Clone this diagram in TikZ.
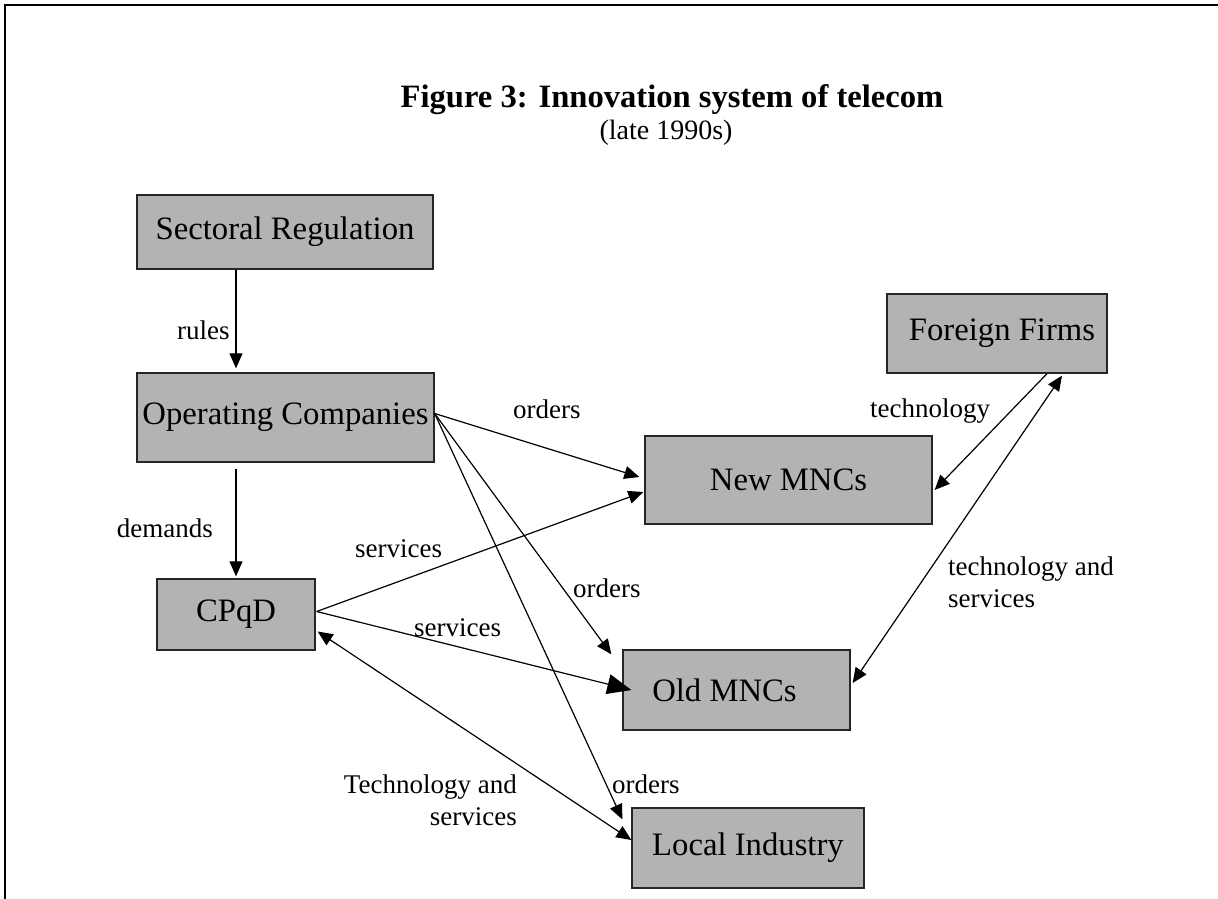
\documentclass[tikz,border=0pt]{standalone}
\usepackage{fontspec}
\setmainfont{Liberation Serif}
\usetikzlibrary{arrows.meta}
\definecolor{boxgray}{RGB}{179,179,179}
\begin{document}
\begin{tikzpicture}[x=1bp,y=-1bp,
  box/.style={draw=black!85, line width=1.3bp, fill=boxgray, inner sep=0pt,
    font=\fontsize{32.7bp}{36bp}\selectfont},
  lbl/.style={font=\fontsize{27bp}{31.7bp}\selectfont, inner sep=0pt},
  conn/.style={line width=1.2bp, -{Triangle[length=15bp,width=13bp]}},
  bigconn/.style={line width=1.2bp, -{Triangle[length=24bp,width=20bp]}},
  dconn/.style={line width=1.2bp, {Triangle[length=15bp,width=13bp]}-{Triangle[length=15bp,width=13bp]}},
  frame/.style={line width=2.2bp}]
\useasboundingbox (0,0) rectangle (1218,899);
\draw[frame] (5,899) -- (5,5) -- (1218,5);

\node[font=\bfseries\fontsize{32.6bp}{36bp}\selectfont, inner sep=0pt, anchor=base] (title) at (672,107) {Figure 3: Innovation system of telecom};
\node[font=\fontsize{28bp}{32bp}\selectfont, inner sep=0pt, anchor=base] (subtitle) at (666,139) {(late 1990s)};

\node[box, minimum width=296bp, minimum height=74bp] (sec) at (285,232) {Sectoral Regulation};
\node[box, minimum width=297bp, minimum height=89bp] (op) at (285.5,417.5) {Operating Companies};
\node[box, minimum width=158bp, minimum height=71bp] (cpqd) at (236,614.5) {CPqD};
\node[box, minimum width=287bp, minimum height=88bp] (new) at (788.5,480) {New MNCs};
\node[box, minimum width=220bp, minimum height=79bp] (ff) at (997,333.5) {\hspace*{10bp}Foreign Firms};
\node[box, minimum width=227bp, minimum height=80bp] (old) at (736.5,690) {\hspace*{-24bp}Old MNCs};
\node[box, minimum width=232bp, minimum height=80bp] (local) at (748,848) {Local Industry};

% connectors
\draw[conn] (sec.south -| cpqd.north) -- ([yshift=4bp]op.north -| cpqd.north);
\draw[conn] ([yshift=-6bp]op.south -| cpqd.north) -- ([yshift=2bp]cpqd.north);
\draw[conn] ([yshift=4bp]op.east) -- ([xshift=-5bp,yshift=3bp]new.west);
\draw[conn] ([yshift=4bp]op.east) -- ([xshift=-11bp,yshift=-5bp]old.north west);
\draw[conn] ([yshift=4bp]op.east) -- ([xshift=-9bp,yshift=-12bp]local.north west);
\draw[conn] ([xshift=1bp,yshift=3bp]cpqd.east) -- ([xshift=-1bp,yshift=-12bp]new.west);
\draw[bigconn] ([xshift=1bp,yshift=3bp]cpqd.east) -- ([xshift=9bp]old.west);
\draw[dconn] ([xshift=2bp,yshift=-17bp]cpqd.east) -- ([yshift=8bp]local.west);
\draw[conn] ([xshift=50bp]ff.south) -- ([xshift=2bp,yshift=-10bp]new.east);
\draw[dconn] ([xshift=2bp,yshift=7bp]old.east) -- ([xshift=65bp,yshift=-2bp]ff.south);

% labels
\node[lbl, anchor=base west] (l1) at (177,339) {rules};
\node[lbl, anchor=base east] (l2) at (213,537) {demands};
\node[lbl, anchor=base west] (l3) at (513,418) {orders};
\node[lbl, anchor=base west] (l4) at (355,557) {services};
\node[lbl, anchor=base west] (l5) at (414,636) {services};
\node[lbl, anchor=base west] (l6) at (573,597) {orders};
\node[lbl, anchor=base east] (l7a) at (517,793) {Technology and};
\node[lbl, anchor=base east] (l7b) at (517,825) {services};
\node[lbl, anchor=base west] (l8) at (612,793) {orders};
\node[lbl, anchor=base west] (l9) at (870,417) {technology};
\node[lbl, anchor=base west] (l10a) at (948,575) {technology and};
\node[lbl, anchor=base west] (l10b) at (948,607) {services};
\end{tikzpicture}
\end{document}
